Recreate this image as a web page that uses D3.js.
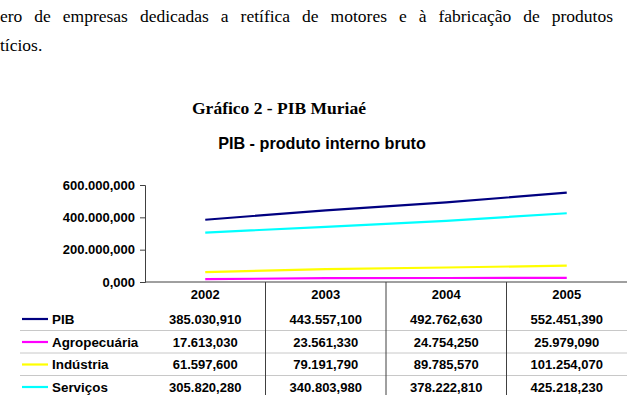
<!DOCTYPE html>
<html>
<head>
<meta charset="utf-8">
<script src="https://cdn.jsdelivr.net/npm/d3@7"></script>
<style>
    body { margin: 0; background: white; }
    svg { display: block; }
</style>
</head>
<body>
<div id="chart"></div>
<script>

// data (valores em mil reais)
let years = ["2002", "2003", "2004", "2005"];
let seriesNames = ["PIB", "Agropecuária", "Indústria", "Serviços"];
let seriesColors = ["#000080", "#ff00ff", "#ffff00", "#00ffff"];
let pib = [385030.910, 443557.100, 492762.630, 552451.390];
let agropecuaria = [17613.030, 23561.330, 24754.250, 25979.090];
let industria = [61597.600, 79191.790, 89785.570, 101254.070];
let servicos = [305820.280, 340803.980, 378222.810, 425218.230];
let yTicks = [0, 200000, 400000, 600000];

let paragraphLines = [
    "ero de empresas dedicadas a retífica de motores e à fabricação de produtos",
    "tícios."
];

let allSeries = [pib, agropecuaria, industria, servicos];

let width = 628, height = 405;

let svg = d3.select("#chart").append("svg")
    .attr("width", width)
    .attr("height", height);

// brazilian number format
let locale = d3.formatLocale({decimal: ",", thousands: ".", grouping: [3], currency: ["R$", ""]});
let fmt = locale.format(",.3f");

// paragraph text, justified on the first line
let para = svg.append("g").attr("font-family", "'Liberation Serif', 'Times New Roman', serif")
    .attr("font-size", "17.5px").attr("fill", "#000");

let words = paragraphLines[0].split(" ");
let tmp = para.selectAll(".w").data(words).enter().append("text").attr("class", "w").text(d => d);
let widths = [];
tmp.each(function() { widths.push(this.getComputedTextLength()); });
let lineWidth = 613;
let gap = (lineWidth - d3.sum(widths)) / (words.length - 1);
let xpos = 0;
tmp.attr("x", (d, i) => {
        let x = xpos;
        xpos += widths[i] + gap;
        return x;
    })
    .attr("y", 22);

para.append("text").attr("x", 0).attr("y", 51).text(paragraphLines[1]);

// figure caption
svg.append("text")
    .attr("x", 279).attr("y", 114)
    .attr("text-anchor", "middle")
    .attr("font-family", "'Liberation Serif', 'Times New Roman', serif")
    .attr("font-weight", "bold")
    .attr("font-size", "17.5px")
    .text("Gráfico 2 - PIB Muriaé");

// chart title
svg.append("text")
    .attr("x", 322).attr("y", 148.5)
    .attr("text-anchor", "middle")
    .attr("font-family", "'Liberation Sans', Arial, sans-serif")
    .attr("font-weight", "bold")
    .attr("font-size", "16.2px")
    .text("PIB - produto interno bruto");

// scales
let x = d3.scaleBand().domain(years).range([145, 627]).padding(0);
let y = d3.scaleLinear().domain([0, 600000]).range([282, 185]);

let chartFont = "'Liberation Sans', Arial, sans-serif";

// y axis
let yAxis = d3.axisLeft(y)
    .tickValues(yTicks)
    .tickSize(5)
    .tickFormat(d => fmt(d));

let yG = svg.append("g")
    .attr("transform", "translate(145,0)")
    .call(yAxis);
yG.select(".domain").attr("stroke", "#404040");
yG.selectAll(".tick line").attr("stroke", "#404040");
yG.selectAll(".tick text")
    .attr("font-family", chartFont)
    .attr("font-weight", "bold")
    .attr("font-size", "13px")
    .attr("fill", "#000")
    .attr("x", -10);

// x axis line
svg.append("line")
    .attr("x1", 145).attr("x2", 627)
    .attr("y1", y(0)).attr("y2", y(0))
    .attr("stroke", "#404040");

// lines
let line = d3.line()
    .x((d, i) => x(years[i]) + x.bandwidth() / 2)
    .y(d => y(d));

svg.selectAll(".series")
    .data(allSeries)
    .enter().append("path")
    .attr("class", "series")
    .attr("d", line)
    .attr("fill", "none")
    .attr("stroke", (d, i) => seriesColors[i])
    .attr("stroke-width", 2.2);

// data table
let rowY = [319, 342, 364.5, 387];
let tableTop = y(0);
let tableBottom = 395;

// row separators
svg.selectAll(".rowsep")
    .data([330.5, 353, 375.5])
    .enter().append("line")
    .attr("x1", 20).attr("x2", 627)
    .attr("y1", d => d).attr("y2", d => d)
    .attr("stroke", "#c8c8c8");

// column separators
svg.selectAll(".colsep")
    .data(years.slice(1))
    .enter().append("line")
    .attr("x1", d => x(d)).attr("x2", d => x(d))
    .attr("y1", tableTop).attr("y2", tableBottom)
    .attr("stroke", "#404040");

// year headers
svg.selectAll(".year")
    .data(years)
    .enter().append("text")
    .attr("x", d => x(d) + x.bandwidth() / 2)
    .attr("y", 298.5)
    .attr("text-anchor", "middle")
    .attr("font-family", chartFont)
    .attr("font-weight", "bold")
    .attr("font-size", "13px")
    .text(d => d);

// rows
allSeries.forEach((values, s) => {
    let g = svg.append("g");
    g.append("line")
        .attr("x1", 22).attr("x2", 48)
        .attr("y1", rowY[s]).attr("y2", rowY[s])
        .attr("stroke", seriesColors[s])
        .attr("stroke-width", 2.2);
    g.append("text")
        .attr("x", 52).attr("y", rowY[s] + 4.5)
        .attr("font-family", chartFont)
        .attr("font-weight", "bold")
        .attr("font-size", "13.4px")
        .text(seriesNames[s]);
    g.selectAll(".val")
        .data(values)
        .enter().append("text")
        .attr("x", (d, i) => x(years[i]) + x.bandwidth() / 2)
        .attr("y", rowY[s] + 4.5)
        .attr("text-anchor", "middle")
        .attr("font-family", chartFont)
        .attr("font-weight", "bold")
        .attr("font-size", "13px")
        .text(d => fmt(d));
});

</script>
</body>
</html>
